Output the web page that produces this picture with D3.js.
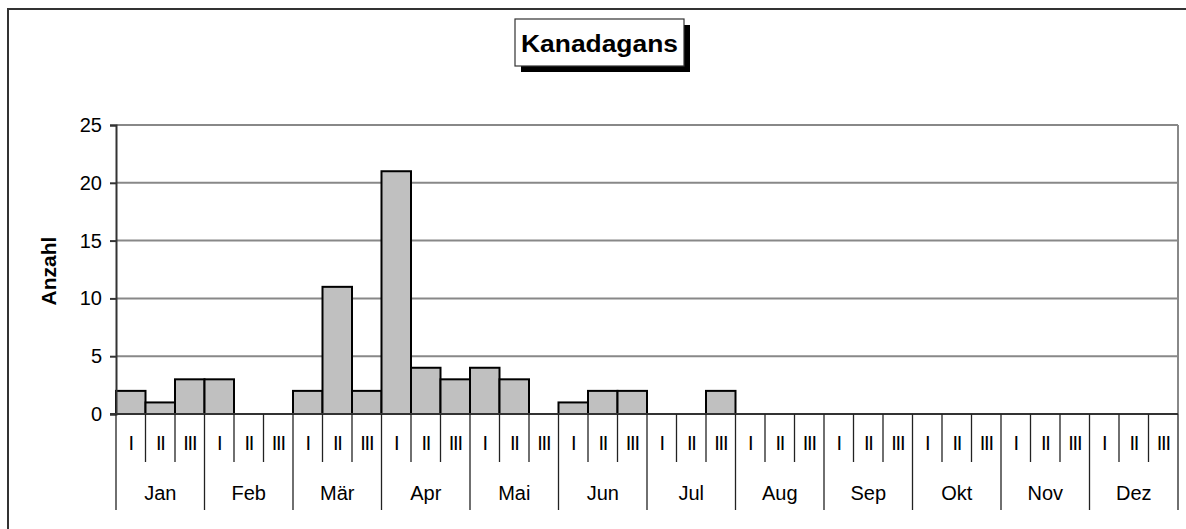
<!DOCTYPE html>
<html>
<head>
<meta charset="utf-8">
<script src="https://cdn.jsdelivr.net/npm/d3@7"></script>
<style>
  html, body { margin: 0; padding: 0; background: #fff; }
  svg { display: block; font-family: "Liberation Sans", Arial, sans-serif; }
</style>
</head>
<body>
<svg id="chart" width="1186" height="529"></svg>
<script>
const months = ["Jan","Feb","Mär","Apr","Mai","Jun","Jul","Aug","Sep","Okt","Nov","Dez"];
const decades = ["I","II","III"];
const values = [
  2, 1, 3,   // Jan
  3, 0, 0,   // Feb
  2, 11, 2,  // Mär
  21, 4, 3,  // Apr
  4, 3, 0,   // Mai
  1, 2, 2,   // Jun
  0, 0, 2,   // Jul
  0, 0, 0,   // Aug
  0, 0, 0,   // Sep
  0, 0, 0,   // Okt
  0, 0, 0,   // Nov
  0, 0, 0    // Dez
];
const yTicks = [0, 5, 10, 15, 20, 25];
const title = "Kanadagans";
const yLabel = "Anzahl";

const svg = d3.select("#chart");
const pLeft = 116, pRight = 1178, pTop = 125, pBottom = 414;

const bins = [];
months.forEach((m, mi) => decades.forEach((d, di) => bins.push({ month: m, dec: d, idx: mi * 3 + di, value: values[mi * 3 + di] })));

const x = d3.scaleBand().domain(bins.map(b => b.idx)).range([pLeft, pRight]).padding(0);
const y = d3.scaleLinear().domain([0, 25]).range([pBottom, pTop]);

// outer frame
svg.append("path").attr("d", "M8,1200 L8,9 L1200,9").attr("fill", "none").attr("stroke", "#333").attr("stroke-width", 2);

// gridlines
svg.append("g").selectAll("line").data(yTicks.filter(t => t > 0)).join("line")
  .attr("x1", pLeft).attr("x2", pRight).attr("y1", d => y(d)).attr("y2", d => y(d))
  .attr("stroke", "#888").attr("stroke-width", 2);
// right plot border
svg.append("line").attr("x1", pRight).attr("x2", pRight).attr("y1", pTop).attr("y2", pBottom)
  .attr("stroke", "#888").attr("stroke-width", 2);

// bars
svg.append("g").selectAll("rect").data(bins.filter(b => b.value > 0)).join("rect")
  .attr("x", d => x(d.idx)).attr("width", x.bandwidth())
  .attr("y", d => y(d.value)).attr("height", d => y(0) - y(d.value))
  .attr("fill", "#c0c0c0").attr("stroke", "#000").attr("stroke-width", 2);

// y axis
const yAxis = d3.axisLeft(y).tickValues(yTicks).tickSize(6).tickPadding(8);
const gy = svg.append("g").attr("transform", `translate(${pLeft},0)`).call(yAxis);
gy.attr("font-size", null).attr("font-family", null);
gy.select(".domain").attr("stroke", "#333").attr("stroke-width", 2);
gy.selectAll(".tick line").attr("stroke", "#333").attr("stroke-width", 2);
gy.selectAll(".tick text").style("font-size", "20px").attr("fill", "#000");

// x axis line
svg.append("line").attr("x1", pLeft - 6).attr("x2", pRight).attr("y1", pBottom).attr("y2", pBottom)
  .attr("stroke", "#333").attr("stroke-width", 2);

// decade separators
const bounds = d3.range(0, bins.length + 1);
const bx = i => i < bins.length ? x(i) : pRight;
svg.append("g").selectAll("line").data(bounds).join("line")
  .attr("x1", d => bx(d)).attr("x2", d => bx(d))
  .attr("y1", pBottom).attr("y2", d => d % 3 === 0 ? 510 : 462)
  .attr("stroke", "#222").attr("stroke-width", 1.3);

// decade labels
svg.append("g").selectAll("text").data(bins).join("text")
  .attr("x", d => x(d.idx) + x.bandwidth() / 2).attr("y", 450)
  .attr("text-anchor", "middle").style("font-size", "20px").style("letter-spacing", "-1.2px")
  .attr("fill", "#000")
  .text(d => d.dec);

// month labels
svg.append("g").selectAll("text").data(months).join("text")
  .attr("x", (d, i) => x(i * 3) + x.bandwidth() * 1.5).attr("y", 500)
  .attr("text-anchor", "middle").style("font-size", "20px").attr("fill", "#000")
  .text(d => d);

// y label
svg.append("text").attr("transform", "translate(56,271) rotate(-90)")
  .attr("text-anchor", "middle").style("font-size", "21px").attr("font-weight", "bold")
  .text(yLabel);

// title box with shadow
svg.append("rect").attr("x", 521).attr("y", 25).attr("width", 169).attr("height", 47).attr("fill", "#000");
svg.append("rect").attr("x", 515).attr("y", 19).attr("width", 169).attr("height", 47)
  .attr("fill", "#fff").attr("stroke", "#333").attr("stroke-width", 1.2);
svg.append("text").attr("x", 599.5).attr("y", 52).attr("text-anchor", "middle")
  .style("font-size", "24px").attr("font-weight", "bold")
  .attr("textLength", 157).attr("lengthAdjust", "spacingAndGlyphs")
  .text(title);
</script>
</body>
</html>
